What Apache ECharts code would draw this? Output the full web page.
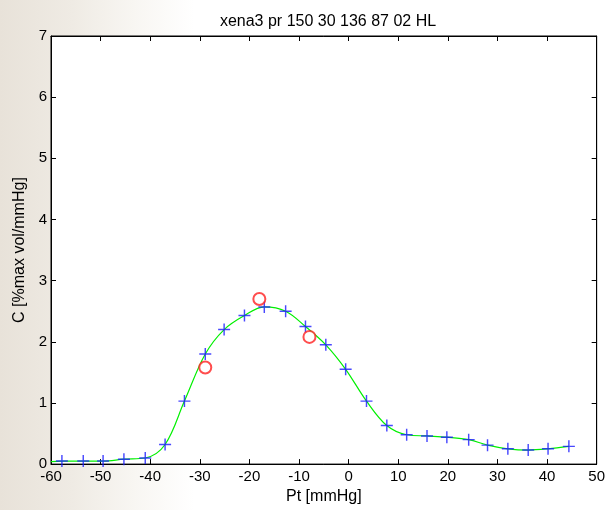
<!DOCTYPE html>
<html><head><meta charset="utf-8">
<script src="https://cdn.jsdelivr.net/npm/echarts@6/dist/echarts.min.js"></script>
<style>
html,body{margin:0;padding:0;}
body{width:608px;height:510px;background:linear-gradient(to right,#e8e2d9 0%,#efebe4 12%,#f8f6f2 22%,#ffffff 32%);}
#c{width:608px;height:510px;}
</style></head><body><div id="c"></div>
<script>
const titleText = 'xena3 pr 150 30 136 87 02 HL';
const xName = 'Pt [mmHg]';
const yName = 'C [%max vol/mmHg]';
const ptX = [-57.8,-53.5,-49.5,-45.3,-41.0,-37.0,-33.1,-28.9,-25.1,-21.0,-17.0,-12.7,-8.7,-4.6,-0.6,3.6,7.7,11.7,15.8,19.8,24.2,28.0,32.1,36.2,40.2,44.4];
const ptY = [0.05,0.05,0.05,0.08,0.10,0.32,1.03,1.80,2.20,2.43,2.57,2.50,2.25,1.95,1.55,1.03,0.63,0.48,0.46,0.44,0.40,0.31,0.25,0.23,0.25,0.29];
const fitX = [-60].concat(ptX);
const fitY = [0.04].concat(ptY);
const circX = [-28.9,-18.0,-7.9];
const circY = [1.58,2.70,2.08];
const xTicks = [-60,-50,-40,-30,-20,-10,0,10,20,30,40,50];
const yTicks = [0,1,2,3,4,5,6,7];

const zip = (a,b)=>a.map((v,i)=>[v,b[i]]);
const plus = 'path://M4.4,0H5.6V4.4H10V5.6H5.6V10H4.4V5.6H0V4.4H4.4Z';
const font = 'Liberation Sans, Arial, sans-serif';
const chart = echarts.init(document.getElementById('c'));
const axX = (pos, show)=>({type:'value',position:pos,min:xTicks[0],max:xTicks[xTicks.length-1],interval:10,
  axisLine:{show:true,onZero:false,lineStyle:{color:'#000',width:1}},
  axisTick:{show:true,inside:true,length:5,lineStyle:{color:'#000'}},
  axisLabel:{show:show,color:'#000',fontSize:15,fontFamily:font,margin:5},
  splitLine:{show:false}});
const axY = (pos, show)=>({type:'value',position:pos,min:yTicks[0],max:yTicks[yTicks.length-1],interval:1,
  axisLine:{show:true,onZero:false,lineStyle:{color:'#000',width:1}},
  axisTick:{show:true,inside:true,length:5,lineStyle:{color:'#000'}},
  axisLabel:{show:show,color:'#000',fontSize:15,fontFamily:font,margin:4},
  splitLine:{show:false}});
const xa = axX('bottom',true); xa.name = xName; xa.nameLocation='middle'; xa.nameGap=22;
xa.nameTextStyle={color:'#000',fontSize:16,fontFamily:font};
const ya = axY('left',true); ya.name = yName; ya.nameLocation='middle'; ya.nameGap=20;
ya.nameTextStyle={color:'#000',fontSize:16,fontFamily:font};
chart.setOption({
  animation:false,
  title:{text:titleText,left:323,top:9,textAlign:'center',textStyle:{color:'#000',fontSize:16,fontWeight:'normal',fontFamily:font}},
  grid:{left:51,right:11,top:36,bottom:44,show:true,backgroundColor:'#fff',borderColor:'#000',borderWidth:1},
  xAxis:[xa, axX('top',false)],
  yAxis:[ya, axY('right',false)],
  series:[
    {type:'line',data:zip(fitX,fitY),smooth:0.35,showSymbol:false,symbol:'none',lineStyle:{color:'#00f000',width:1.2},z:2},
    {type:'scatter',data:zip(ptX,ptY),symbol:plus,symbolSize:12,itemStyle:{color:'#1a1aff'},z:3},
    {type:'scatter',data:zip(circX,circY),symbol:'emptyCircle',symbolSize:12,itemStyle:{color:'#ff2020',borderColor:'#ff2020',borderWidth:1.2},z:4}
  ]
});
</script></body></html>
